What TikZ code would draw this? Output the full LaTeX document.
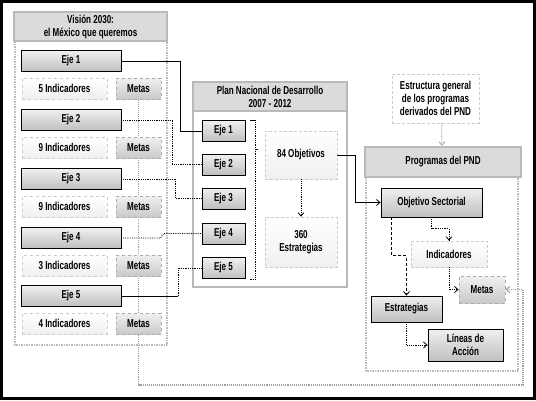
\documentclass[tikz,border=0pt]{standalone}
\usepackage{fontspec}
\newfontfamily\nf{Liberation Sans}[FakeStretch=0.7]
\usetikzlibrary{arrows.meta,calc,backgrounds}
\begin{document}
\begin{tikzpicture}[x=1pt,y=-1pt,
  every node/.style={font=\nf\bfseries\fontsize{11.5}{13}\selectfont, inner sep=0pt, align=center},
  hdr/.style={draw=gray!55, line width=2pt, fill=gray!28},
  eje/.style={draw=black, line width=0.8pt, top color=gray!12, bottom color=gray!50},
  indic/.style={draw=gray!40, dashed, line width=0.7pt, top color=white, bottom color=gray!12},
  met/.style={draw=gray!65, dashed, line width=0.8pt, top color=gray!12, bottom color=gray!42},
  light/.style={draw=gray!40, densely dashed, line width=0.7pt, top color=white, bottom color=gray!12},
  cont/.style={draw=gray!55, line width=1.5pt, densely dotted},
  conn/.style={draw=black, line width=0.8pt},
  gconn/.style={draw=gray!75, line width=1.1pt, densely dotted},
  tip/.style={-{Straight Barb[length=3.5pt,width=6pt]}}
]
\useasboundingbox (0,0) rectangle (536,400);
\draw[line width=2.5pt] (1.5,1.5) rectangle (534.5,398.5);

% containers
\draw[cont] (15,41) rectangle (167,345);
\draw[draw=gray!55, line width=2pt] (193,111) rectangle (347,287);
\draw[cont] (366,177) rectangle (518,371);

% headers
\node[hdr, minimum width=153pt, minimum height=29pt] (vh) at (90.5,26.5) {Visión 2030:\\el México que queremos};
\node[hdr, minimum width=154pt, minimum height=29pt] (ph) at (270,96.5) {Plan Nacional de Desarrollo\\2007 - 2012};
\node[hdr, minimum width=156pt, minimum height=30pt] (gh) at (443,162) {Programas del PND};

% left column
\foreach \i/\n/\y in {1/5/61,2/9/120,3/9/179,4/3/238,5/4/296}{
  \node[eje, minimum width=100pt, minimum height=21pt] (e\i) at (71,\y) {Eje \i};
  \node[indic, minimum width=85pt, minimum height=21pt] (n\i) at (64.5,\y+27.5) {\n\ Indicadores};
  \node[met, minimum width=45pt, minimum height=21pt] (m\i) at (138.5,\y+27.5) {Metas};
}

% PND ejes
\foreach \i/\y in {1/131,2/164.5,3/198.5,4/233.5,5/268}{
  \node[eje, minimum width=43pt, minimum height=21pt] (p\i) at (223.5,\y) {Eje \i};
}
\node[light, minimum width=72pt, minimum height=48pt] (obj) at (301,155) {84 Objetivos};
\node[light, minimum width=72pt, minimum height=50pt] (est) at (301,242) {360\\Estrategias};

% right part
\node[draw=gray!40, densely dashed, line width=0.7pt, fill=white, minimum width=87pt, minimum height=49pt] (estr) at (435.5,98.5) {Estructura general\\de los programas\\derivados del PND};
\node[eje, minimum width=101pt, minimum height=29pt] (os) at (431.5,202.5) {Objetivo Sectorial};
\node[light, minimum width=76pt, minimum height=26pt] (ri) at (449,254) {Indicadores};
\node[met, minimum width=46pt, minimum height=27pt] (mr) at (482,289.5) {Metas};
\node[eje, minimum width=71pt, minimum height=26pt] (st) at (406.5,309) {Estrategias};
\node[eje, minimum width=75pt, minimum height=32pt] (la) at (465.5,345) {Líneas de\\Acción};

\coordinate (mc) at (523,385);

\begin{scope}[on background layer]
  \draw[gconn] (m1.south) -- (m5.north);
\end{scope}
\draw[gconn, tip] (m5.south) |- (mc) |- (mr.east);

% left -> PND
\draw[conn] (e1.east) -- ++(59,0) |- (p1.west);
\draw[conn, densely dotted] (e2.east) -- ++(51,0) |- (p2.west);
\draw[conn, densely dotted] (e3.east) -- ++(54,0) |- (p3.west);
\draw[conn, densely dotted] (e4.east) -- ++(39,0) -- ($(p4.west)+(-38,0)$) -- (p4.west);
\draw[conn] (e5.east) -- ++(57,0) coordinate (e5c);
\draw[conn, densely dotted] (e5c) |- (p5.west);

% bracket
\draw[conn] ($(p1.north east)+(5,0)$) -- ++(5,0) coordinate (bt);
\draw[conn, densely dotted] (bt) |- ($(p5.south east)+(4,0)$);
\draw[conn] ($(bt)+(0,29)$) -- ++(3,0);

\draw[conn, densely dotted, tip] (obj.south) -- (est.north);
\draw[conn, tip] (obj.east) -- ++(18,0) |- (os.west);
\draw[gray!60, line width=1.1pt, densely dotted, tip] ($(estr.south)+(6,0)$) -- ($(gh.north)+(-1,0)$);

\draw[conn, densely dotted, tip] (os.south) |- ($(ri.north)+(0,-12)$) -- (ri.north);
\draw[conn, densely dashed, tip] ($(os.south west)+(11,0)$) |- ($(st.north)+(0,-40)$) -- (st.north);
\draw[conn, densely dotted, tip] (ri.south) |- (mr.west);
\draw[conn, densely dotted, tip] (st.south) |- (la.west);
\end{tikzpicture}
\end{document}
